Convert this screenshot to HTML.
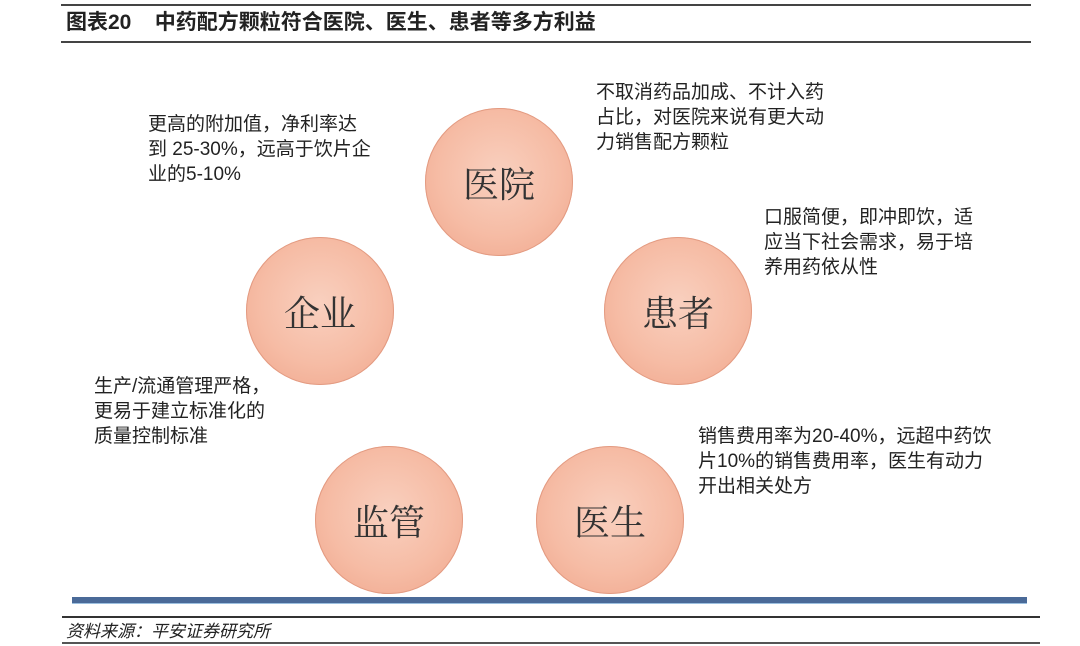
<!DOCTYPE html>
<html><head><meta charset="utf-8"><style>
body{margin:0;width:1080px;height:646px;background:#fff;position:relative;overflow:hidden;font-family:"Liberation Sans","Noto Sans CJK SC",sans-serif;color:#222}
.a{position:absolute}
.c{position:absolute;width:148px;height:148px;border-radius:50%;background:radial-gradient(circle at 50% 45%,#f9d0bf 0%,#f6bca5 55%,#ef a08a 100%);background:radial-gradient(circle at 50% 45%,#f9d0bf 0%,#f6bca5 55%,#efa58b 100%);box-shadow:0 0 0 1px #e39b82 inset;display:flex;align-items:center;justify-content:center;font-family:"Noto Serif CJK SC",serif;font-size:36px;color:#333}
.t{position:absolute;font-size:19px;line-height:25px;color:#222;white-space:nowrap}
</style></head><body>
<div class="a" style="left:61px;top:4px;width:970px;height:2px;background:#444"></div>
<div class="a" style="left:66px;top:10px;font-size:21px;font-weight:bold;line-height:26px">图表20&nbsp;&nbsp;&nbsp;&nbsp;中药配方颗粒符合医院、医生、患者等多方利益</div>
<div class="a" style="left:61px;top:41px;width:970px;height:2px;background:#444"></div>

<div class="c" style="left:425px;top:108px">医院</div>
<div class="c" style="left:604px;top:237px">患者</div>
<div class="c" style="left:246px;top:237px">企业</div>
<div class="c" style="left:315px;top:446px">监管</div>
<div class="c" style="left:536px;top:446px">医生</div>

<div class="t" style="left:148px;top:112px">更高的附加值，净利率达<br>到 25-30%，远高于饮片企<br>业的5-10%</div>
<div class="t" style="left:596px;top:80px">不取消药品加成、不计入药<br>占比，对医院来说有更大动<br>力销售配方颗粒</div>
<div class="t" style="left:764px;top:205px">口服简便，即冲即饮，适<br>应当下社会需求，易于培<br>养用药依从性</div>
<div class="t" style="left:94px;top:374px">生产/流通管理严格，<br>更易于建立标准化的<br>质量控制标准</div>
<div class="t" style="left:698px;top:424px">销售费用率为20-40%，远超中药饮<br>片10%的销售费用率，医生有动力<br>开出相关处方</div>

<div class="a" style="left:72px;top:597px;width:955px;height:6px;background:#4a6a98;border-bottom:1px solid #9cc0e0"></div>
<div class="a" style="left:62px;top:616px;width:978px;height:2px;background:#333"></div>
<div class="a" style="left:66px;top:621px;font-size:17px;font-style:italic;line-height:22px">资料来源：平安证券研究所</div>
<div class="a" style="left:62px;top:642px;width:978px;height:2px;background:#555"></div>
</body></html>
